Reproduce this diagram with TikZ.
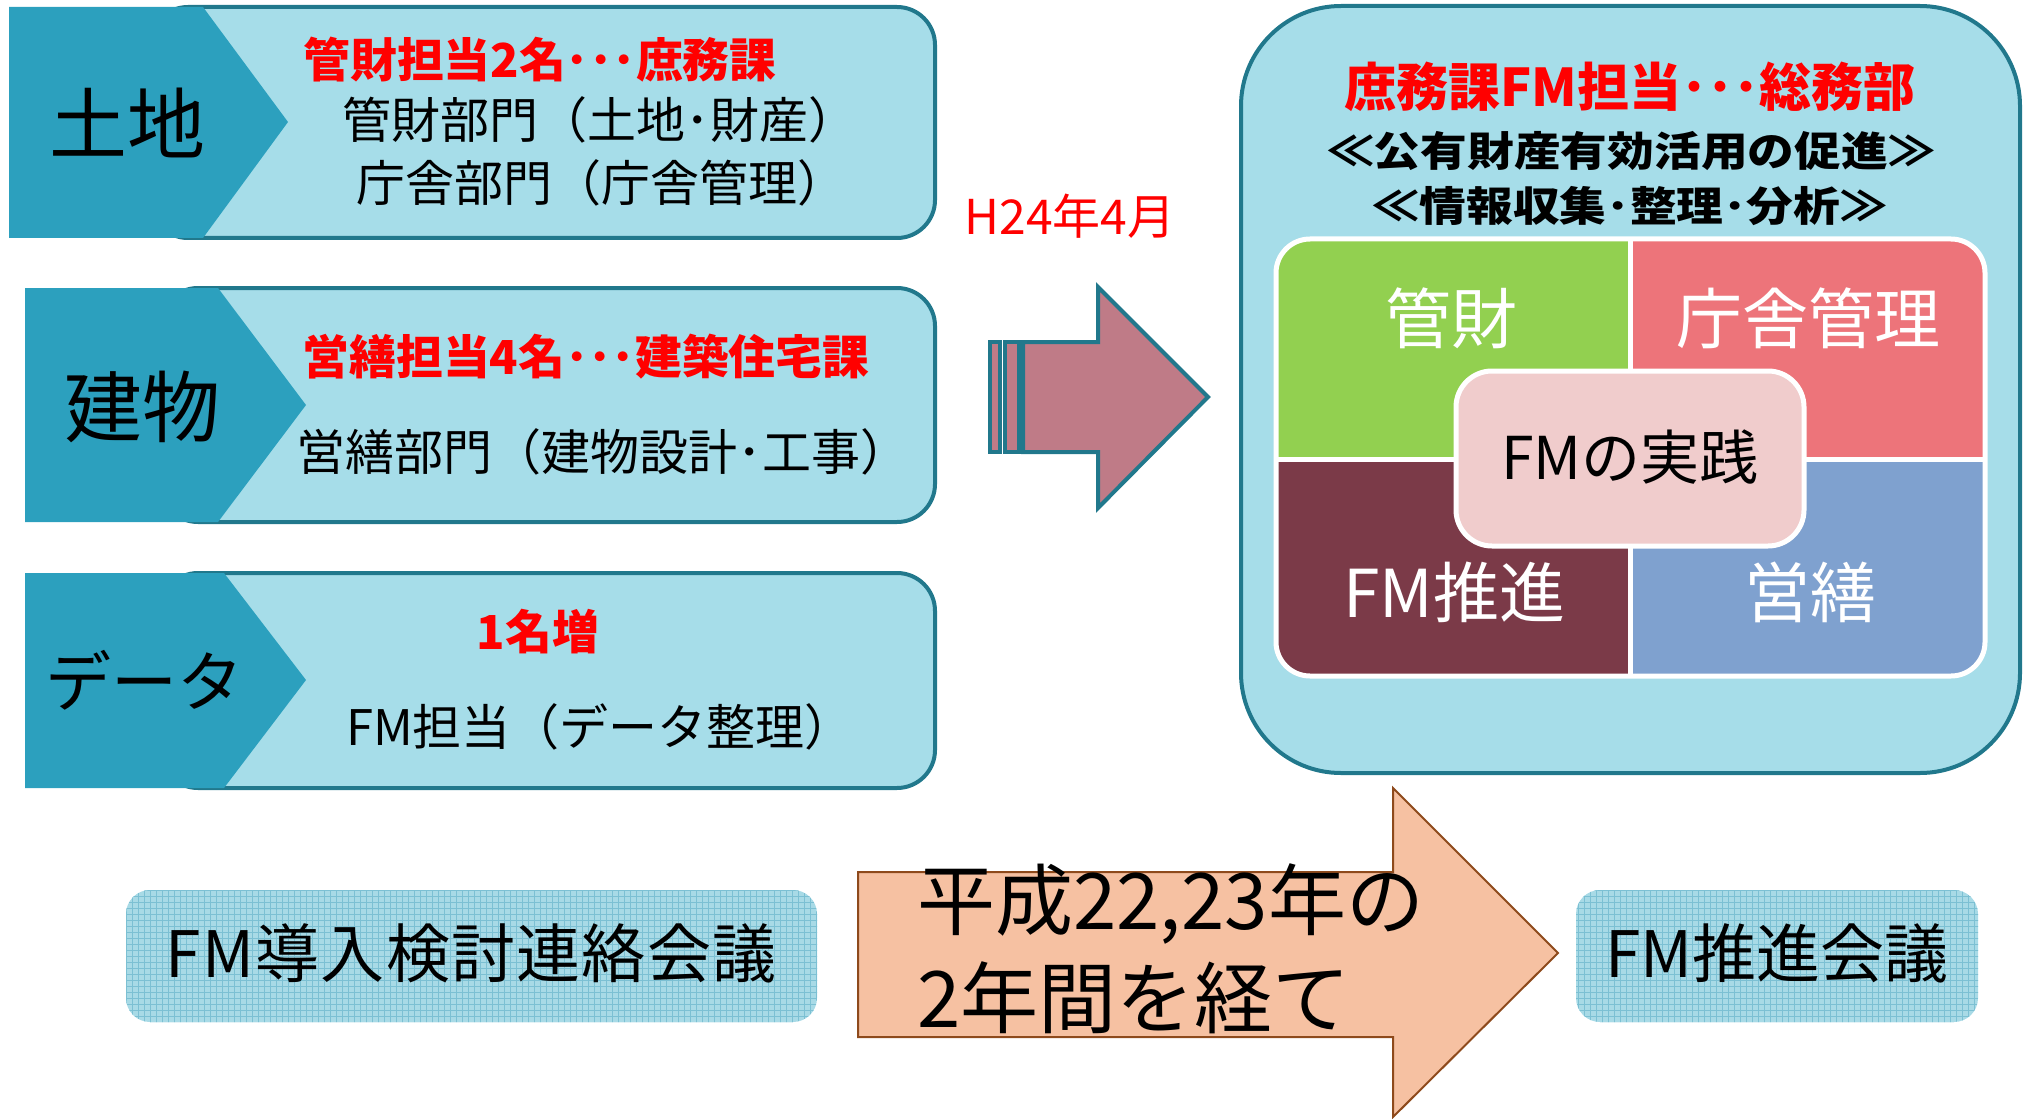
\documentclass[tikz,border=0pt]{standalone}
\usepackage{fontspec}
\usepackage{graphicx}
\setmainfont{Noto Sans CJK JP}
\usetikzlibrary{patterns}
\definecolor{pent}{HTML}{2CA0BE}
\definecolor{lite}{HTML}{A6DDE9}
\definecolor{edge}{HTML}{21788C}
\definecolor{arrowpink}{HTML}{BF7B87}
\definecolor{peach}{HTML}{F6C1A2}
\definecolor{brownedge}{HTML}{8E4A1C}
\definecolor{qgreen}{HTML}{92D050}
\definecolor{qred}{HTML}{ED747A}
\definecolor{qmaroon}{HTML}{7B3A48}
\definecolor{qblue}{HTML}{7FA1CF}
\definecolor{qcenter}{HTML}{F0CCCC}
\definecolor{patbg}{HTML}{A8DAE6}
\definecolor{patline}{HTML}{7CC0D3}
\definecolor{redtxt}{HTML}{FF0000}
\tikzset{
  litebox/.style={fill=lite, draw=edge, line width=2pt, rounded corners=19pt},
  pentshape/.style={fill=pent},
  redlbl/.style={text=redtxt, inner sep=0pt, font=\bfseries\fontsize{23.4pt}{28pt}\selectfont},
  blklbl/.style={text=black, inner sep=0pt, font=\fontsize{24.5pt}{29pt}\selectfont},
  biglbl/.style={text=black, inner sep=0pt, font=\fontsize{39pt}{44pt}\selectfont},
  titlelbl/.style={inner sep=0pt, font=\bfseries\fontsize{20.5pt}{25pt}\selectfont},
  quadlbl/.style={text=white, inner sep=0pt, font=\fontsize{33pt}{38pt}\selectfont},
  meetbox/.style={preaction={fill=patbg}, pattern=grid, pattern color=patline, rounded corners=12pt},
  arrowshape/.style={fill=arrowpink, draw=edge, line width=2pt},
}
\begin{document}
\begin{tikzpicture}[x=0.5pt,y=-0.5pt]
\useasboundingbox (0,0) rectangle (2027,1118);

% ---- left box 1
\path[litebox] (150,7) rectangle (935,238);
\fill[pentshape] (9,7) -- (203,7) -- (288,122) -- (203,238) -- (9,238) -- cycle;
\node[biglbl] (t1) at (127,123) {土地};
\node[redlbl] (r1) at (540,60) {管財担当2名･･･庶務課};
\node[blklbl] (b1a) at (600,120) {管財部門（土地･財産）};
\node[blklbl] (b1b) at (601,183) {庁舎部門（庁舎管理）};

% ---- left box 2
\path[litebox] (160,288) rectangle (935,522);
\fill[pentshape] (25,288) -- (218,288) -- (306,405) -- (218,522) -- (25,522) -- cycle;
\node[biglbl] (t2) at (142,407) {建物};
\node[redlbl] (r2) at (586,357) {営繕担当4名･･･建築住宅課};
\node[blklbl] (b2) at (603,452) {営繕部門（建物設計･工事）};

% ---- left box 3
\path[litebox] (160,573) rectangle (935,788);
\fill[pentshape] (25,573) -- (224,573) -- (306,680) -- (224,788) -- (25,788) -- cycle;
\node[biglbl, font=\fontsize{33pt}{38pt}\selectfont] (t3) at (144,680) {データ};
\node[redlbl] (r3) at (538,632) {1名増};
\node[blklbl] (b3) at (600,727) {FM担当（データ整理）};

% ---- middle arrow
\node[text=redtxt, inner sep=0pt, font=\fontsize{24pt}{28pt}\selectfont] (h24) at (1070,216) {H24年4月};
\draw[arrowshape] (990,342) rectangle (1000,452);
\draw[arrowshape] (1005,342) rectangle (1019,452);
\draw[arrowshape] (1023,342) -- (1098,342) -- (1098,287) -- (1208,397) -- (1098,508) -- (1098,452) -- (1023,452) -- cycle;

% ---- right big box
\draw[fill=lite, draw=edge, line width=2pt, rounded corners=50pt] (1241,6) rectangle (2020,773);
\node[inner sep=0pt, text=redtxt, font=\bfseries\fontsize{26pt}{30pt}\selectfont] (tt1) at (1630,87) {庶務課FM担当･･･総務部};
\node[titlelbl] (tt2) at (1631,151) {\scalebox{1.14}[1]{≪公有財産有効活用の促進≫}};
\node[titlelbl] (tt3) at (1630,206) {\scalebox{1.14}[1]{≪情報収集･整理･分析≫}};

\begin{scope}
\clip[rounded corners=17pt] (1276,239) rectangle (1985,676);
\fill[qgreen] (1276,239) rectangle (1630,459);
\fill[qred] (1630,239) rectangle (1985,459);
\fill[qmaroon] (1276,459) rectangle (1630,676);
\fill[qblue] (1630,459) rectangle (1985,676);
\end{scope}
\draw[white, line width=2.5pt] (1630,239) -- (1630,676);
\draw[white, line width=2.5pt] (1276,459) -- (1985,459);
\draw[white, line width=2.5pt, rounded corners=17pt] (1276,239) rectangle (1985,676);
\node[quadlbl] (q1) at (1451,318) {管財};
\node[quadlbl] (q2) at (1808,318) {庁舎管理};
\node[quadlbl] (q3) at (1454,592) {FM推進};
\node[quadlbl] (q4) at (1810,592) {営繕};
\draw[fill=qcenter, draw=white, line width=2.5pt, rounded corners=18pt] (1456,371) rectangle (1804,546);
\node[inner sep=0pt, font=\fontsize{29.5pt}{34pt}\selectfont] (fmj) at (1630,457) {FMの実践};

% ---- bottom row
\path[meetbox] (126,890) rectangle (817,1022);
\node[inner sep=0pt, font=\addfontfeatures{LetterSpace=2}\fontsize{32pt}{38pt}\selectfont] (m1) at (471,953) {FM導入検討連絡会議};
\draw[fill=peach, draw=brownedge, line width=1pt] (858,872) -- (1393,872) -- (1393,788) -- (1558,953) -- (1393,1117) -- (1393,1037) -- (858,1037) -- cycle;
\node[anchor=west, align=left, inner sep=0pt, font=\fontsize{39pt}{49pt}\selectfont] (yrs) at (917,949) {平成22,23年の\\2年間を経て};
\path[meetbox] (1576,890) rectangle (1978,1022);
\node[inner sep=0pt, font=\fontsize{32pt}{36pt}\selectfont] (m2) at (1777,953) {FM推進会議};
\end{tikzpicture}
\end{document}
